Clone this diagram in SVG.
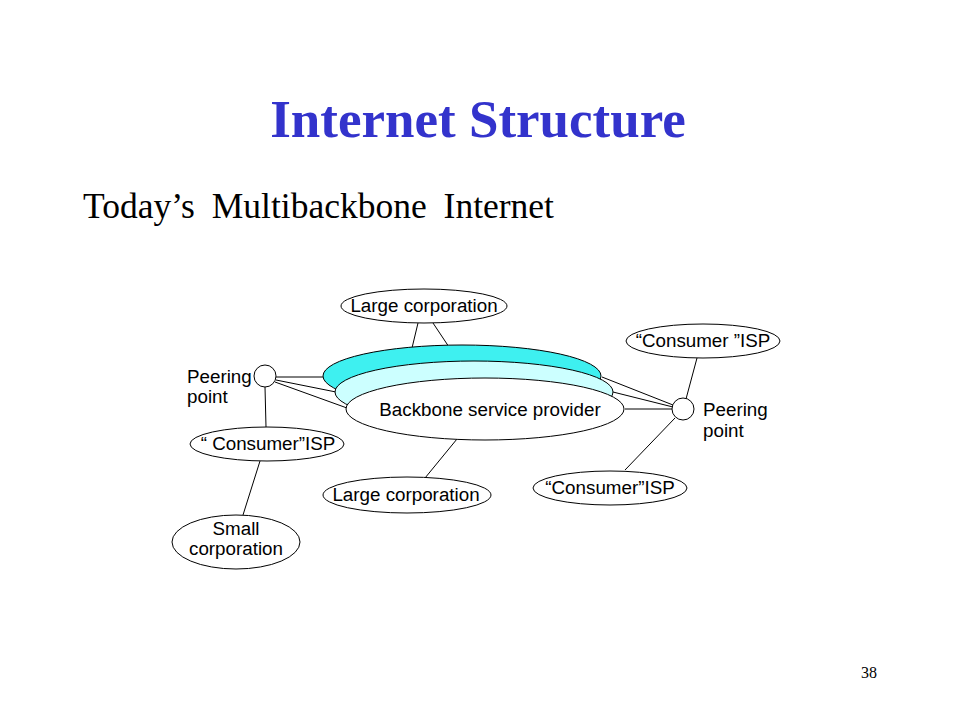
<svg xmlns="http://www.w3.org/2000/svg" width="960" height="720" viewBox="0 0 960 720">
<style>
.t{font-family:"Liberation Sans",Arial,sans-serif;font-size:18.8px;fill:#000}
.c{text-anchor:middle}
.n{fill:#fff;stroke:#000;stroke-width:1}
.l{stroke:#000;stroke-width:1;fill:none}
</style>
<rect width="960" height="720" fill="#fff"/>
<text x="478" y="137" text-anchor="middle" font-family="'Liberation Serif','Times New Roman',serif" font-weight="bold" font-size="53" fill="#3333cc">Internet Structure</text>
<text x="83" y="218" font-family="'Liberation Serif','Times New Roman',serif" font-size="35.5" word-spacing="8" fill="#000">Today’s Multibackbone Internet</text>
<text x="877" y="678" text-anchor="end" font-family="'Liberation Serif','Times New Roman',serif" font-size="16" fill="#000">38</text>
<g id="connectors">
<line class="l" x1="276" y1="377" x2="323" y2="377"/>
<line class="l" x1="276" y1="380" x2="336" y2="392"/>
<line class="l" x1="275" y1="382" x2="347" y2="408"/>
<line class="l" x1="265" y1="387" x2="266" y2="427"/>
<line class="l" x1="260" y1="461" x2="243" y2="515"/>
<line class="l" x1="425" y1="478" x2="457" y2="439"/>
<line class="l" x1="418" y1="323" x2="412" y2="348"/>
<line class="l" x1="433" y1="323" x2="471" y2="380"/>
<line class="l" x1="602" y1="377" x2="673" y2="405"/>
<line class="l" x1="613" y1="392" x2="673" y2="407"/>
<line class="l" x1="625" y1="409" x2="672" y2="409"/>
<line class="l" x1="686" y1="399" x2="697" y2="358"/>
<line class="l" x1="675" y1="418" x2="625" y2="470"/>
</g>
<g id="backbone3"><ellipse cx="462" cy="376" rx="139" ry="31" fill="#3ef0f0" stroke="#000"/></g>
<g id="backbone2"><ellipse cx="474" cy="392" rx="139" ry="31" fill="#ccffff" stroke="#000"/></g>
<g id="backbone1"><ellipse class="n" cx="485" cy="409" rx="139" ry="31"/><text class="t c" x="490" y="416">Backbone service provider</text></g>
<g id="largeTop"><ellipse class="n" cx="424" cy="306" rx="83" ry="17"/><text class="t c" x="424" y="312">Large corporation</text></g>
<g id="largeBottom"><ellipse class="n" cx="407" cy="495" rx="84" ry="18"/><text class="t c" x="406" y="501">Large corporation</text></g>
<g id="peerLeft"><circle class="n" cx="265" cy="376" r="11"/><text class="t" x="187" y="383">Peering</text><text class="t" x="187" y="403">point</text></g>
<g id="peerRight"><circle class="n" cx="683" cy="409" r="11"/><text class="t" x="703" y="416">Peering</text><text class="t" x="703" y="437">point</text></g>
<g id="ispLeft"><ellipse class="n" cx="267" cy="444" rx="77" ry="17"/><text class="t c" x="268" y="450">“ Consumer”ISP</text></g>
<g id="ispTopRight"><ellipse class="n" cx="703" cy="341" rx="77" ry="17"/><text class="t c" x="703" y="347">“Consumer ”ISP</text></g>
<g id="ispBottom"><ellipse class="n" cx="610" cy="488" rx="77" ry="17"/><text class="t c" x="610" y="494">“Consumer”ISP</text></g>
<g id="small"><ellipse class="n" cx="236" cy="542" rx="64" ry="27"/><text class="t c" x="236" y="535">Small</text><text class="t c" x="236" y="555">corporation</text></g>
</svg>
